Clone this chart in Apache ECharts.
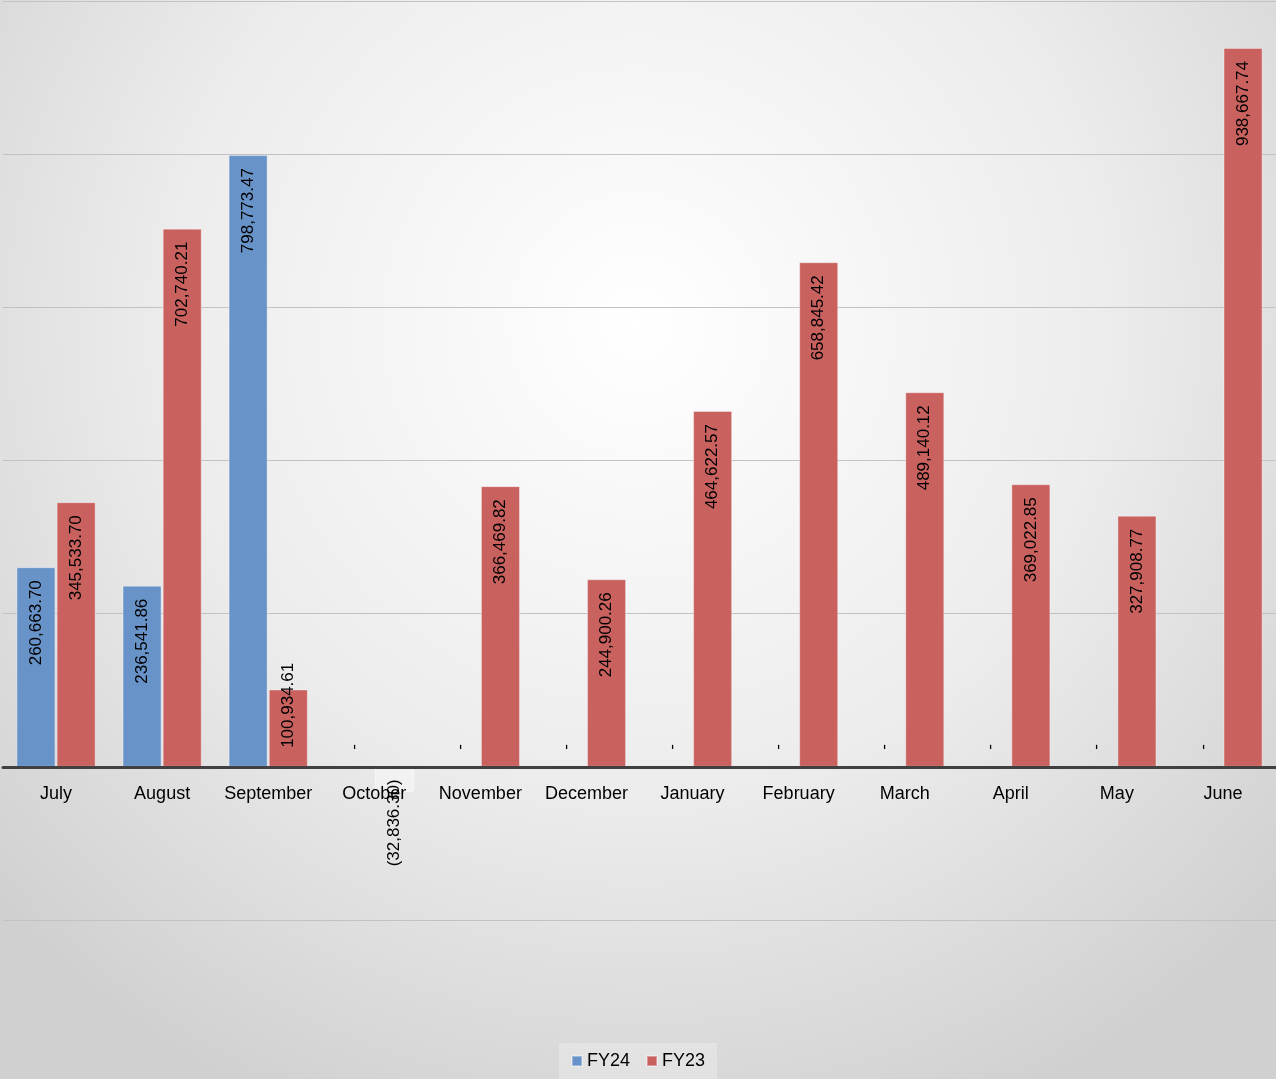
<!DOCTYPE html>
<html>
<head>
<meta charset="utf-8">
<script src="https://cdn.jsdelivr.net/npm/echarts@6/dist/echarts.min.js"></script>
<style>
  html, body { margin: 0; padding: 0; }
  #main { width: 1276px; height: 1079px; }
</style>
</head>
<body>
<div id="main"></div>
<script>
// months of the fiscal year
var months = ['July', 'August', 'September', 'October', 'November', 'December',
  'January', 'February', 'March', 'April', 'May', 'June'];
var fy24 = [260663.70, 236541.86, 798773.47, 0, 0, 0, 0, 0, 0, 0, 0, 0];
var fy23 = [345533.70, 702740.21, 100934.61, -32836.30, 366469.82, 244900.26,
  464622.57, 658845.42, 489140.12, 369022.85, 327908.77, 938667.74];
var seriesNames = ['FY24', 'FY23'];

var fontName = '"Liberation Sans", Arial, sans-serif';

// accounting style: 1,234.56 / (1,234.56) / -
function fmt(v) {
  if (v === 0) return '-';
  var s = Math.abs(v).toFixed(2).replace(/\B(?=(\d{3})+(?!\d))/g, ',');
  return v < 0 ? '(' + s + ')' : s;
}

// label placement per bar (short / zero / negative bars are handled like Excel does)
function toItems(arr) {
  return arr.map(function (v) {
    var item = { value: v };
    if (v === 0) {
      item.itemStyle = { borderWidth: 0 };
      item.label = { position: 'top', distance: 20, align: 'center', verticalAlign: 'middle' };
    } else if (v < 0) {
      item.itemStyle = { color: 'rgba(250,250,250,0.5)', borderColor: 'rgba(255,255,255,0.6)' };
      item.label = { position: 'inside', align: 'right', verticalAlign: 'middle' };
    } else if (v < 150000) {
      item.label = { position: 'insideBottom', distance: 19, align: 'left', verticalAlign: 'middle' };
    }
    return item;
  });
}

var labelStyle = {
  show: true,
  rotate: 90,
  position: 'insideTop',
  distance: 13,
  align: 'right',
  verticalAlign: 'middle',
  color: '#000',
  fontSize: 17,
  fontFamily: fontName,
  formatter: function (p) { return fmt(p.value); }
};

var myChart = echarts.init(document.getElementById('main'));
var option = {
  animation: false,
  backgroundColor: {
    type: 'radial', x: 0.5, y: 0.3, r: 0.8,
    colorStops: [
      { offset: 0, color: '#ffffff' },
      { offset: 0.55, color: '#ececec' },
      { offset: 1, color: '#d0d0d0' }
    ]
  },
  color: ['#6893c8', '#c9615f'],
  grid: { left: 3, right: 0, top: 1, bottom: 159 },
  legend: {
    data: seriesNames,
    bottom: 0,
    left: 'center',
    icon: 'rect',
    itemWidth: 10,
    itemHeight: 10,
    itemGap: 16,
    padding: [9, 12, 9, 12],
    backgroundColor: 'rgba(255,255,255,0.25)',
    textStyle: { fontSize: 18, fontFamily: fontName, color: '#000' }
  },
  xAxis: {
    type: 'category',
    data: months,
    offset: -153,
    z: 5,
    axisTick: { show: false },
    axisLine: { onZero: false, lineStyle: { color: '#404040', width: 3 } },
    axisLabel: { color: '#000', fontSize: 18, fontFamily: fontName, margin: 18, interval: 0 }
  },
  yAxis: {
    type: 'value',
    min: -200000,
    max: 1000000,
    interval: 200000,
    axisLabel: { show: false },
    axisLine: { show: false },
    axisTick: { show: false },
    splitLine: { lineStyle: { color: '#c2c2c2', width: 1 } }
  },
  series: [
    {
      name: seriesNames[0],
      type: 'bar',
      data: toItems(fy24),
      barWidth: 39,
      barGap: '3%',
      itemStyle: { borderColor: 'rgba(255,255,255,0.35)', borderWidth: 1 },
      label: labelStyle
    },
    {
      name: seriesNames[1],
      type: 'bar',
      data: toItems(fy23),
      barWidth: 39,
      itemStyle: { borderColor: 'rgba(255,255,255,0.35)', borderWidth: 1 },
      label: labelStyle
    }
  ]
};
myChart.setOption(option);
</script>
</body>
</html>
